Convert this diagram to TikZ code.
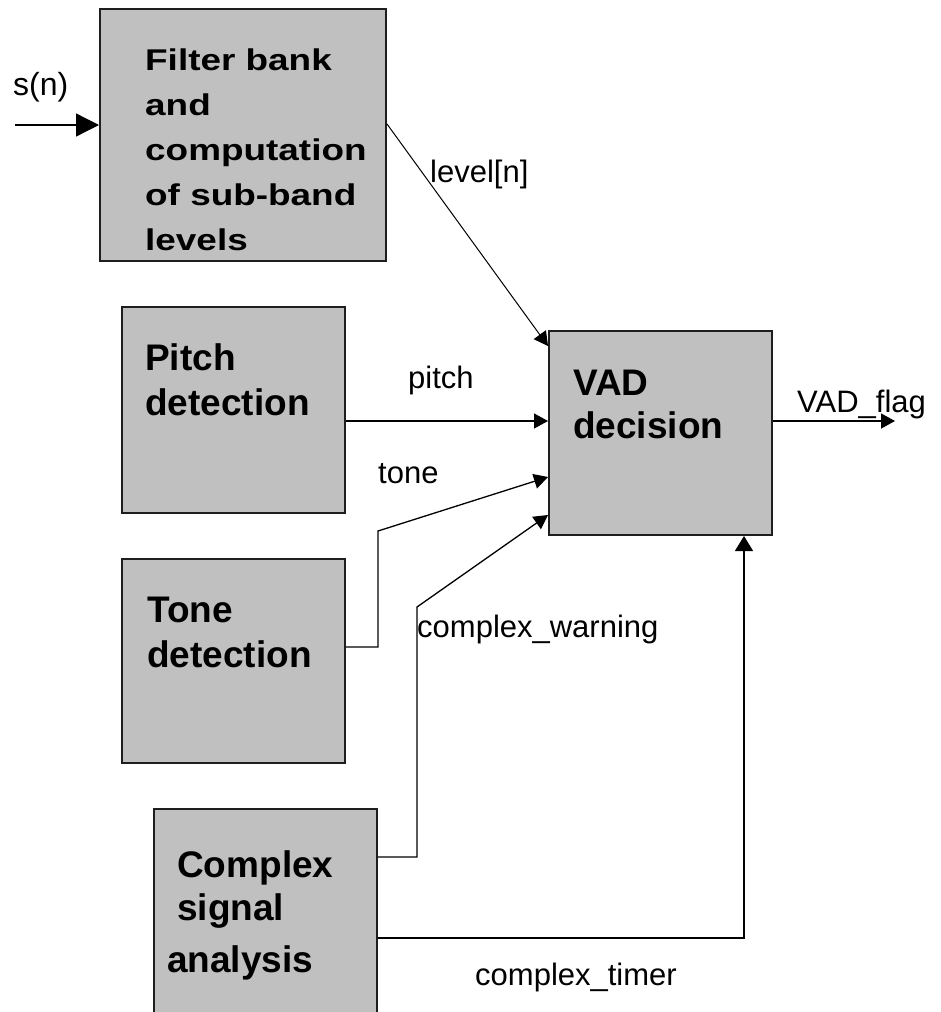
\documentclass[tikz,border=0pt]{standalone}
\usepackage{fontspec}
\setmainfont{Liberation Sans}
\newfontfamily\widefont{Liberation Sans}[FakeStretch=1.23]
\usetikzlibrary{arrows.meta,calc}
\definecolor{boxgray}{RGB}{192,192,192}
\definecolor{boxline}{RGB}{30,30,30}
\begin{document}
\begin{tikzpicture}[x=1pt,y=-1pt,
  blk/.style={draw=boxline, line width=2pt, fill=boxgray, inner sep=0pt},
  conn/.style={draw=black, line width=1.3pt, -{Triangle[length=14pt,width=15pt]}},
  bigtip/.style={draw=black, line width=1.3pt, -{Triangle[length=23pt,width=23pt]}},
  lbl/.style={inner sep=0pt, anchor=base west, font=\fontsize{31}{37}\selectfont},
  btxt/.style={inner sep=0pt, anchor=base west, align=left, font=\fontsize{37}{45}\selectfont\bfseries},
  ftxt/.style={inner sep=0pt, anchor=base west, align=left, font=\fontsize{30}{45}\selectfont\widefont\bfseries}
]
\clip (0,0) rectangle (941,1012);
\fill[white] (0,0) rectangle (941,1012);

% boxes
\node[blk, minimum width=286pt, minimum height=252pt] (filter) at (243,135) {};
\node[blk, minimum width=223pt, minimum height=206pt] (pitch) at (233.5,410) {};
\node[blk, minimum width=223pt, minimum height=204pt] (tone) at (233.5,661) {};
\node[blk, minimum width=223pt, minimum height=204pt] (vad) at (660.5,433) {};
\node[blk, minimum width=223pt, minimum height=258pt] (complex) at (265.5,938) {};

% box texts (anchored at the baseline of the last line)
\node[ftxt] (filtertxt) at (145,250) {Filter bank\\and\\computation\\of sub-band\\levels};
\node[btxt] (pitchtxt) at (145,415) {Pitch\\detection};
\node[btxt] (tonetxt) at (147,667) {Tone\\detection};
\node[btxt, font=\fontsize{37}{43}\selectfont\bfseries] (vadtxt) at (573,438) {VAD\\decision};
\node[btxt, font=\fontsize{37}{43}\selectfont\bfseries] (complextxt) at (177,972) {Complex\\signal\\[9pt]\hspace*{-10pt}analysis};

% coordinates
\coordinate (in) at (15,125);
\coordinate (tc) at (378,531);
\coordinate (wc) at (417,607);
\coordinate (out) at (895,421);

% connectors
\draw[bigtip] (in) -- (filter.west |- in);
\draw[conn, line width=1pt] ([yshift=11pt]filter.east) -- ([yshift=-16pt]vad.north west);
\draw[conn] ([yshift=-11pt]pitch.east) -- ([yshift=-11pt]pitch.east -| vad.west);
\draw[conn] ([yshift=14pt]tone.east) -| (tc) -- ([yshift=-147pt]vad.north west);
\draw[conn] ([yshift=81pt]complex.east) -| (wc) -- ([yshift=-185pt]vad.north west);
\draw[conn, -{Triangle[length=15pt,width=18pt]}] (complex.east) -| ([xshift=83.5pt]vad.south);
\draw[conn] ([yshift=12pt]vad.east) -- (out);

% labels
\node[lbl, font=\fontsize{32}{38}\selectfont] (sn) at (13,95) {s(n)};
\node[lbl] (lev) at (430,182) {level[n]};
\node[lbl] (pitchl) at (408,388) {pitch};
\node[lbl] (tonel) at (378,483) {tone};
\node[lbl] (flagl) at (797,412) {VAD\_flag};
\node[lbl] (warnl) at (417,637) {complex\_warning};
\node[lbl] (timerl) at (475,985) {complex\_timer};
\end{tikzpicture}
\end{document}
